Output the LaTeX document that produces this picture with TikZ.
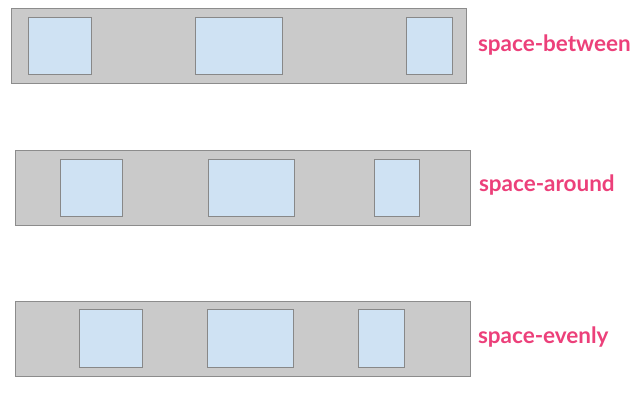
\documentclass[tikz,border=0pt]{standalone}
\usepackage{fontspec}
\setmainfont{Lato}
\definecolor{rowgray}{HTML}{CACACA}
\definecolor{rowline}{HTML}{8C8C8C}
\definecolor{itemblue}{HTML}{CFE2F3}
\definecolor{itemline}{HTML}{888888}
\definecolor{labelpink}{HTML}{EC407A}
\begin{document}
\begin{tikzpicture}[x=1pt, y=-1pt,
  inner sep=0pt, outer sep=0pt,%
  row box/.style={fill=rowgray,draw=rowline,line width=1pt},
  item box/.style={fill=itemblue,draw=itemline,line width=1pt},
  row label/.style={anchor=west,text=labelpink,font=\fontsize{22.5}{27}\selectfont\bfseries}]

\useasboundingbox (0,0) rectangle (637,416);

% space-between
\draw[row box] (11,8) rectangle (466,83);
\draw[item box] (28,17) rectangle (91,74);
\draw[item box] (195,17) rectangle (282,74);
\draw[item box] (406,17) rectangle (452,74);

% space-around
\draw[row box] (15,150) rectangle (470,225);
\draw[item box] (60,159) rectangle (122,216);
\draw[item box] (208,159) rectangle (294,216);
\draw[item box] (374,159) rectangle (419,216);

% space-evenly
\draw[row box] (15,301) rectangle (470,376);
\draw[item box] (79,309) rectangle (142,367);
\draw[item box] (207,309) rectangle (293,367);
\draw[item box] (358,309) rectangle (404,367);

\node[row label] (between) at (478,45) {space-between};
\node[row label] (around) at (479,185) {space-around};
\node[row label] (evenly) at (478,337) {space-evenly};

\end{tikzpicture}
\end{document}
